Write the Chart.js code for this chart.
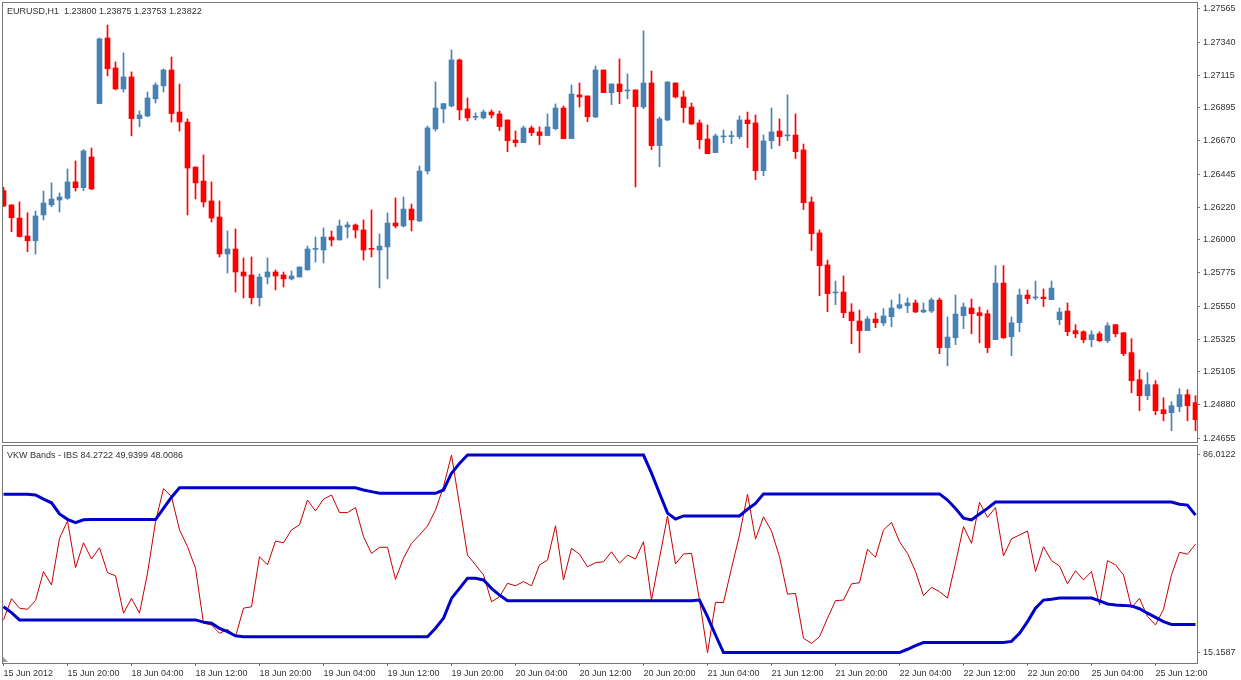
<!DOCTYPE html>
<html>
<head>
<meta charset="utf-8">
<title>EURUSD,H1 - VKW Bands IBS</title>
<script src="https://cdn.jsdelivr.net/npm/chart.js@4.4.0/dist/chart.umd.min.js"></script>
<style>
    html, body { margin: 0; padding: 0; background: #fff; }
    #wrap { position: relative; width: 1241px; height: 680px; overflow: hidden; font-family: 'Liberation Sans', Arial, sans-serif; }
    #priceBox { position: absolute; left: 0; top: 0; width: 1241px; height: 443px; }
    #ibsBox { position: absolute; left: 0; top: 443px; width: 1241px; height: 237px; }
    .caption { position: absolute; left: 7px; font-size: 9px; line-height: 10px; color: #333; white-space: pre; }
    #shift { position: absolute; left: 3px; top: 657px; width: 0; height: 0; border-bottom: 5px solid #999; border-right: 5px solid transparent; }
</style>
</head>
<body>
<div id="wrap">
    <div id="priceBox"><canvas id="priceChart" width="1241" height="443"></canvas></div>
    <div id="ibsBox"><canvas id="ibsChart" width="1241" height="237"></canvas></div>
    <div class="caption" style="top:6px">EURUSD,H1  1.23800 1.23875 1.23753 1.23822</div>
    <div class="caption" style="top:450px">VKW Bands - IBS 84.2722 49.9399 48.0086</div>
    <div id="shift"></div>
</div>
<script>
// Hourly bars, 15 Jun 2012 12:00 .. 25 Jun 2012 17:00 (weekend removed)
const TIME_LABELS = ['15 Jun 2012', '15 Jun 20:00', '18 Jun 04:00', '18 Jun 12:00', '18 Jun 20:00',
    '19 Jun 04:00', '19 Jun 12:00', '19 Jun 20:00', '20 Jun 04:00', '20 Jun 12:00', '20 Jun 20:00',
    '21 Jun 04:00', '21 Jun 12:00', '21 Jun 20:00', '22 Jun 04:00', '22 Jun 12:00', '22 Jun 20:00',
    '25 Jun 04:00', '25 Jun 12:00'];
const BARS_PER_LABEL = 8;

const PRICE_TICKS = ['1.24655', '1.24880', '1.25105', '1.25325', '1.25550', '1.25775', '1.26000',
    '1.26220', '1.26445', '1.26670', '1.26895', '1.27115', '1.27340', '1.27565'];
const IBS_TICKS = ['15.1587', '86.0122'];

const OPEN = [
    1.26333, 1.26236, 1.26147, 1.26025, 1.25993, 1.26168, 1.26236, 1.26269, 1.26281, 1.26392,
    1.26353, 1.26561, 1.26923, 1.27368, 1.27165, 1.27022, 1.27104, 1.26821, 1.26839, 1.26955,
    1.27043, 1.27151, 1.26866, 1.26798, 1.26493, 1.26398, 1.26263, 1.26154, 1.25903, 1.25937,
    1.25781, 1.25761, 1.25607, 1.25747, 1.25781, 1.25761, 1.25734, 1.25747, 1.25795, 1.25934,
    1.25930, 1.26018, 1.25998, 1.26086, 1.26100, 1.26066, 1.25939, 1.25930, 1.25951, 1.26113,
    1.26093, 1.26208, 1.26127, 1.26466, 1.26751, 1.26887, 1.26907, 1.27219, 1.26887, 1.26830,
    1.26826, 1.26866, 1.26853, 1.26812, 1.26676, 1.26658, 1.26758, 1.26731, 1.26706, 1.26753,
    1.26893, 1.26685, 1.26982, 1.26975, 1.26832, 1.27151, 1.26997, 1.27056, 1.27009, 1.27016,
    1.26900, 1.27063, 1.26638, 1.26812, 1.27063, 1.26968, 1.26900, 1.26792, 1.26683, 1.26590,
    1.26697, 1.26699, 1.26699, 1.26812, 1.26792, 1.26468, 1.26672, 1.26737, 1.26704, 1.26710,
    1.26609, 1.26256, 1.26046, 1.25829, 1.25639, 1.25645, 1.25510, 1.25449, 1.25383, 1.25462,
    1.25435, 1.25478, 1.25537, 1.25552, 1.25571, 1.25510, 1.25516, 1.25591, 1.25268, 1.25335,
    1.25485, 1.25537, 1.25505, 1.25498, 1.25322, 1.25706, 1.25342, 1.25437, 1.25625, 1.25605,
    1.25611, 1.25593, 1.25457, 1.25516, 1.25383, 1.25376, 1.25322, 1.25362, 1.25315, 1.25424,
    1.25369, 1.25234, 1.25051, 1.24942, 1.25017, 1.24847, 1.24827, 1.24867, 1.24949, 1.24895
];
const HIGH = [
    1.26356, 1.26236, 1.26256, 1.26183, 1.26195, 1.26330, 1.26385, 1.26317, 1.26480, 1.26534,
    1.26611, 1.26622, 1.27368, 1.27456, 1.27206, 1.27267, 1.27138, 1.26873, 1.27002, 1.27063,
    1.27158, 1.27239, 1.27056, 1.26819, 1.26493, 1.26575, 1.26392, 1.26263, 1.26059, 1.26073,
    1.25876, 1.25883, 1.25768, 1.25876, 1.25795, 1.25781, 1.25788, 1.25815, 1.25957, 1.26018,
    1.26080, 1.26059, 1.26134, 1.26120, 1.26107, 1.26134, 1.26202, 1.26039, 1.26181, 1.26283,
    1.26290, 1.26242, 1.26500, 1.26771, 1.27070, 1.26923, 1.27287, 1.27226, 1.26961, 1.26860,
    1.26880, 1.26880, 1.26873, 1.26812, 1.26737, 1.26771, 1.26771, 1.26765, 1.26853, 1.26921,
    1.26907, 1.27049, 1.27063, 1.26975, 1.27178, 1.27151, 1.27056, 1.27226, 1.27124, 1.27016,
    1.27416, 1.27144, 1.26832, 1.27070, 1.27063, 1.27009, 1.26927, 1.26812, 1.26778, 1.26717,
    1.26744, 1.26737, 1.26839, 1.26866, 1.26846, 1.26710, 1.26893, 1.26819, 1.26982, 1.26853,
    1.26649, 1.26290, 1.26066, 1.25862, 1.25720, 1.25754, 1.25566, 1.25523, 1.25478, 1.25503,
    1.25532, 1.25591, 1.25632, 1.25605, 1.25591, 1.25571, 1.25605, 1.25605, 1.25476, 1.25625,
    1.25571, 1.25598, 1.25544, 1.25523, 1.25824, 1.25824, 1.25476, 1.25666, 1.25659, 1.25720,
    1.25666, 1.25720, 1.25537, 1.25571, 1.25424, 1.25383, 1.25383, 1.25376, 1.25437, 1.25424,
    1.25369, 1.25329, 1.25118, 1.25098, 1.25044, 1.24928, 1.24901, 1.24989, 1.24983, 1.24942
];
const LOW = [
    1.26224, 1.26054, 1.26018, 1.25919, 1.25903, 1.26134, 1.26224, 1.26188, 1.26274, 1.26330,
    1.26333, 1.26339, 1.26923, 1.27111, 1.27016, 1.27002, 1.26704, 1.26765, 1.26834, 1.26927,
    1.27002, 1.26798, 1.26737, 1.26168, 1.26276, 1.26222, 1.26120, 1.25883, 1.25774, 1.25645,
    1.25605, 1.25564, 1.25550, 1.25700, 1.25659, 1.25679, 1.25727, 1.25747, 1.25795, 1.25849,
    1.25842, 1.25957, 1.25998, 1.26012, 1.26012, 1.25862, 1.25883, 1.25673, 1.25734, 1.26080,
    1.26086, 1.26059, 1.26122, 1.26446, 1.26737, 1.26792, 1.26900, 1.26812, 1.26805, 1.26812,
    1.26819, 1.26826, 1.26739, 1.26597, 1.26631, 1.26658, 1.26706, 1.26645, 1.26706, 1.26744,
    1.26685, 1.26685, 1.26900, 1.26800, 1.26828, 1.26997, 1.26916, 1.26923, 1.26955, 1.26358,
    1.26889, 1.26611, 1.26495, 1.26807, 1.26961, 1.26794, 1.26780, 1.26617, 1.26583, 1.26590,
    1.26658, 1.26651, 1.26685, 1.26624, 1.26407, 1.26434, 1.26617, 1.26638, 1.26672, 1.26550,
    1.26204, 1.25926, 1.25620, 1.25512, 1.25559, 1.25471, 1.25295, 1.25234, 1.25383, 1.25403,
    1.25417, 1.25410, 1.25530, 1.25505, 1.25505, 1.25505, 1.25505, 1.25227, 1.25145, 1.25288,
    1.25396, 1.25362, 1.25301, 1.25234, 1.25322, 1.25329, 1.25213, 1.25376, 1.25566, 1.25593,
    1.25546, 1.25593, 1.25424, 1.25349, 1.25335, 1.25301, 1.25274, 1.25308, 1.25301, 1.25342,
    1.25213, 1.24962, 1.24840, 1.24915, 1.24813, 1.24772, 1.24705, 1.24833, 1.24772, 1.24705
];
const CLOSE = [
    1.26229, 1.26149, 1.26021, 1.25993, 1.26161, 1.26249, 1.26276, 1.26290, 1.26392, 1.26353,
    1.26602, 1.26344, 1.27362, 1.27160, 1.27022, 1.27104, 1.26821, 1.26846, 1.26961, 1.27049,
    1.27151, 1.26855, 1.26798, 1.26486, 1.26385, 1.26256, 1.26147, 1.25903, 1.25937, 1.25781,
    1.25754, 1.25607, 1.25747, 1.25781, 1.25754, 1.25734, 1.25754, 1.25815, 1.25937, 1.25937,
    1.26018, 1.25998, 1.26093, 1.26100, 1.26066, 1.25930, 1.25935, 1.25957, 1.26113, 1.26093,
    1.26208, 1.26134, 1.26466, 1.26758, 1.26893, 1.26923, 1.27219, 1.26880, 1.26826, 1.26832,
    1.26866, 1.26846, 1.26767, 1.26672, 1.26658, 1.26758, 1.26726, 1.26706, 1.26765, 1.26893,
    1.26685, 1.26988, 1.26968, 1.26834, 1.27151, 1.26997, 1.27056, 1.27004, 1.27011, 1.26902,
    1.27063, 1.26638, 1.26819, 1.27070, 1.26968, 1.26896, 1.26785, 1.26678, 1.26583, 1.26704,
    1.26699, 1.26704, 1.26812, 1.26787, 1.26468, 1.26670, 1.26731, 1.26699, 1.26706, 1.26597,
    1.26251, 1.26041, 1.25824, 1.25634, 1.25641, 1.25505, 1.25451, 1.25383, 1.25462, 1.25437,
    1.25483, 1.25537, 1.25559, 1.25571, 1.25510, 1.25523, 1.25591, 1.25268, 1.25340, 1.25496,
    1.25544, 1.25498, 1.25485, 1.25268, 1.25706, 1.25335, 1.25437, 1.25625, 1.25600, 1.25607,
    1.25600, 1.25672, 1.25510, 1.25376, 1.25362, 1.25322, 1.25356, 1.25315, 1.25417, 1.25362,
    1.25227, 1.25044, 1.24942, 1.25017, 1.24840, 1.24820, 1.24874, 1.24949, 1.24874, 1.24779
];

// VKW Bands - IBS indicator window
const IBS = [
    27.0, 34.6, 31.2, 30.8, 33.9, 44.3, 39.5, 56.2, 62.4, 45.7,
    54.6, 48.8, 52.8, 43.9, 42.8, 29.4, 34.7, 29.4, 43.7, 62.1,
    74.0, 71.1, 59.2, 53.2, 45.5, 25.8, 25.2, 22.2, 23.6, 21.0,
    31.2, 31.7, 49.6, 46.7, 55.2, 54.6, 59.2, 61.0, 69.9, 66.0,
    70.2, 71.7, 65.4, 65.4, 67.2, 56.8, 50.8, 53.0, 53.0, 41.5,
    49.1, 54.4, 57.4, 60.6, 66.3, 74.7, 86.0, 68.1, 50.2, 46.7,
    43.1, 33.5, 35.3, 40.1, 39.2, 40.7, 39.2, 46.7, 48.4, 60.7,
    41.3, 52.6, 50.5, 46.0, 47.5, 47.8, 51.4, 47.3, 50.2, 48.8,
    55.0, 34.1, 49.1, 64.2, 47.0, 50.6, 50.8, 34.1, 15.2, 33.3,
    33.2, 45.5, 57.4, 72.0, 55.9, 63.9, 58.8, 49.6, 36.2, 36.5,
    20.4, 18.6, 21.0, 27.6, 33.9, 34.1, 39.9, 40.3, 52.3, 49.4,
    59.2, 61.9, 55.0, 50.8, 44.3, 35.7, 38.7, 37.1, 34.8, 47.3,
    60.4, 54.4, 69.1, 63.7, 67.2, 49.9, 56.0, 57.4, 58.8, 44.3,
    53.2, 48.2, 46.3, 39.9, 44.6, 41.3, 44.3, 32.3, 48.2, 46.7,
    43.1, 31.4, 34.7, 28.2, 25.2, 30.8, 43.1, 51.2, 50.5, 54.1
];
const UPPER = [
    72.0, 72.0, 72.0, 72.0, 71.7, 70.2, 68.9, 64.9, 63.0, 61.8,
    62.8, 62.9, 62.9, 62.9, 62.9, 62.9, 62.9, 62.9, 62.9, 62.9,
    66.9, 70.9, 74.3, 74.3, 74.3, 74.3, 74.3, 74.3, 74.3, 74.3,
    74.3, 74.3, 74.3, 74.3, 74.3, 74.3, 74.3, 74.3, 74.3, 74.3,
    74.3, 74.3, 74.3, 74.3, 74.3, 73.5, 72.9, 72.3, 72.3, 72.3,
    72.3, 72.3, 72.3, 72.3, 72.3, 73.5, 79.5, 83.0, 86.0, 86.0,
    86.0, 86.0, 86.0, 86.0, 86.0, 86.0, 86.0, 86.0, 86.0, 86.0,
    86.0, 86.0, 86.0, 86.0, 86.0, 86.0, 86.0, 86.0, 86.0, 86.0,
    86.0, 79.5, 72.3, 65.2, 63.1, 64.2, 64.2, 64.2, 64.2, 64.2,
    64.2, 64.2, 64.2, 66.6, 68.7, 72.1, 72.1, 72.1, 72.1, 72.1,
    72.1, 72.1, 72.1, 72.1, 72.1, 72.1, 72.1, 72.1, 72.1, 72.1,
    72.1, 72.1, 72.1, 72.1, 72.1, 72.1, 72.1, 72.1, 69.9, 66.9,
    63.4, 62.8, 64.9, 66.9, 69.2, 69.2, 69.2, 69.2, 69.2, 69.2,
    69.2, 69.2, 69.2, 69.2, 69.2, 69.2, 69.2, 69.2, 69.2, 69.2,
    69.2, 69.2, 69.2, 69.2, 69.2, 69.2, 69.2, 68.4, 68.1, 64.5
];
const LOWER = [
    31.7, 29.6, 27.0, 27.0, 27.0, 27.0, 27.0, 27.0, 27.0, 27.0,
    27.0, 27.0, 27.0, 27.0, 27.0, 27.0, 27.0, 27.0, 27.0, 27.0,
    27.0, 27.0, 27.0, 27.0, 27.0, 26.2, 25.8, 24.0, 22.8, 21.3,
    21.0, 21.0, 21.0, 21.0, 21.0, 21.0, 21.0, 21.0, 21.0, 21.0,
    21.0, 21.0, 21.0, 21.0, 21.0, 21.0, 21.0, 21.0, 21.0, 21.0,
    21.0, 21.0, 21.0, 21.0, 24.0, 27.6, 34.7, 38.3, 41.9, 41.9,
    41.3, 38.3, 35.9, 33.9, 33.9, 33.9, 33.9, 33.9, 33.9, 33.9,
    33.9, 33.9, 33.9, 33.9, 33.9, 33.9, 33.9, 33.9, 33.9, 33.9,
    33.9, 33.9, 33.9, 33.9, 33.9, 33.9, 33.9, 34.1, 28.2, 21.6,
    15.3, 15.3, 15.3, 15.3, 15.3, 15.3, 15.3, 15.3, 15.3, 15.3,
    15.3, 15.3, 15.3, 15.3, 15.3, 15.3, 15.3, 15.3, 15.3, 15.3,
    15.3, 15.3, 15.3, 16.5, 17.8, 18.9, 18.9, 18.9, 18.9, 18.9,
    18.9, 18.9, 18.9, 18.9, 18.9, 18.9, 19.3, 22.2, 26.4, 31.2,
    34.1, 34.4, 34.8, 34.8, 34.8, 34.8, 34.8, 33.8, 32.7, 32.3,
    32.2, 32.0, 31.0, 29.4, 27.9, 26.4, 25.4, 25.4, 25.4, 25.4
];

// visible window, in bar units (8px per bar)
const X_MIN = -0.1875;
const X_MAX = 149.1875;

const BULL = '#4682B4';
const BEAR = '#FF0000';
const AXIS_TEXT = '#333';
const FRAME = '#777';

Chart.defaults.font.family = "'Liberation Sans', Arial, sans-serif";
Chart.defaults.font.size = 9;
Chart.defaults.color = AXIS_TEXT;

const framePlugin = {
    id: 'frame',
    afterDraw(chart) {
        const { ctx, chartArea: a } = chart;
        ctx.save();
        ctx.strokeStyle = FRAME;
        ctx.lineWidth = 1;
        ctx.strokeRect(a.left + 0.5, a.top + 0.5, a.right - a.left, a.bottom - a.top);
        ctx.restore();
    }
};

// keep axis labels from pushing the plot area around
function noLabelPadding(s) {
    s.paddingTop = 0;
    s.paddingBottom = 0;
    s.paddingLeft = 0;
    s.paddingRight = 0;
}

function rightAxis(min, max, ticks, digits) {
    return {
        position: 'right',
        min: min,
        max: max,
        afterBuildTicks: s => { s.ticks = ticks.map(t => ({ value: parseFloat(t) })); },
        afterFit: s => { s.width = 44; noLabelPadding(s); },
        grid: { drawOnChartArea: false, drawTicks: true, tickLength: 3, color: FRAME },
        border: { display: false },
        ticks: { padding: 3, autoSkip: false, callback: v => v.toFixed(digits) }
    };
}

// Candlestick chart
function initializePriceChart() {
    const candleColors = CLOSE.map((c, i) => c >= OPEN[i] ? BULL : BEAR);

    new Chart(document.getElementById('priceChart'), {
        type: 'bar',
        data: {
            datasets: [{
                label: 'body',
                data: OPEN.map((o, i) => ({ x: i, y: [o, CLOSE[i]] })),
                backgroundColor: candleColors,
                barThickness: 5,
                minBarLength: 1,
                grouped: false
            }, {
                label: 'wick',
                data: HIGH.map((h, i) => ({ x: i, y: [LOW[i], h] })),
                backgroundColor: candleColors,
                barThickness: 1,
                grouped: false
            }]
        },
        options: {
            responsive: false,
            animation: false,
            devicePixelRatio: 1,
            layout: { padding: { left: 2, top: 2, right: 0, bottom: 1 } },
            plugins: { legend: { display: false }, tooltip: { enabled: false } },
            scales: {
                x: { type: 'linear', display: false, offset: false, min: X_MIN, max: X_MAX },
                y: rightAxis(1.24628, 1.27612, PRICE_TICKS, 5)
            }
        },
        plugins: [framePlugin]
    });
}

// Indicator window
function initializeIbsChart() {
    const asPoints = arr => arr.map((v, i) => ({ x: i, y: v }));

    new Chart(document.getElementById('ibsChart'), {
        type: 'line',
        data: {
            datasets: [{
                label: 'Upper',
                data: asPoints(UPPER),
                borderColor: '#0000CC',
                borderWidth: 3,
                pointRadius: 0
            }, {
                label: 'Lower',
                data: asPoints(LOWER),
                borderColor: '#0000CC',
                borderWidth: 3,
                pointRadius: 0
            }, {
                label: 'IBS',
                data: asPoints(IBS),
                borderColor: '#C40000',
                borderWidth: 1,
                pointRadius: 0
            }]
        },
        options: {
            responsive: false,
            animation: false,
            devicePixelRatio: 1,
            layout: { padding: { left: 2, top: 2, right: 0, bottom: 0 } },
            plugins: { legend: { display: false }, tooltip: { enabled: false } },
            scales: {
                x: {
                    type: 'linear',
                    offset: false,
                    min: X_MIN,
                    max: X_MAX,
                    afterBuildTicks: s => { s.ticks = TIME_LABELS.map((_, k) => ({ value: k * BARS_PER_LABEL })); },
                    afterFit: s => { s.height = 17; noLabelPadding(s); },
                    grid: { drawOnChartArea: false, drawTicks: true, tickLength: 3, color: FRAME },
                    border: { display: false },
                    ticks: {
                        autoSkip: false,
                        maxRotation: 0,
                        align: 'start',
                        padding: 2,
                        callback: v => TIME_LABELS[Math.round(v / BARS_PER_LABEL)]
                    }
                },
                y: rightAxis(11.58, 89.59, IBS_TICKS, 4)
            }
        },
        plugins: [framePlugin]
    });
}

initializePriceChart();
initializeIbsChart();
</script>
</body>
</html>
